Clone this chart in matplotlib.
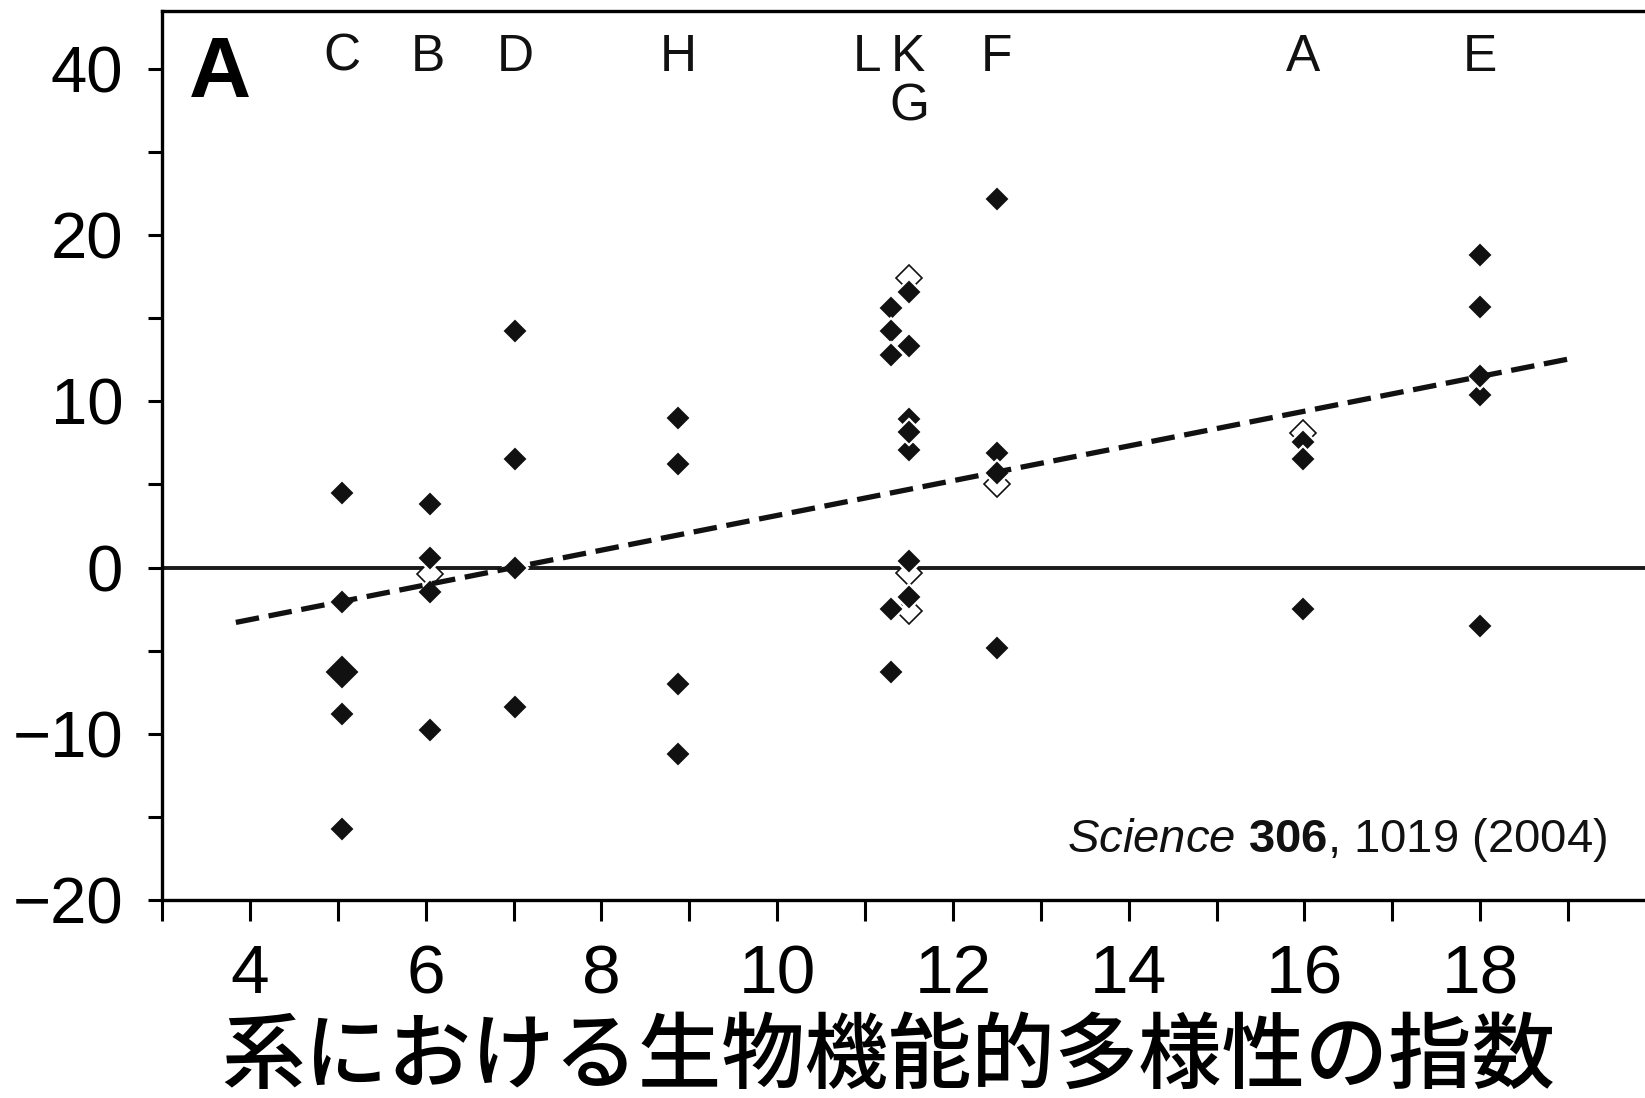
import matplotlib
matplotlib.use("Agg")
import matplotlib.pyplot as plt

plt.rcParams['font.family'] = ['Liberation Sans', 'DejaVu Sans']
plt.rcParams['mathtext.fontset'] = 'custom'
plt.rcParams['mathtext.rm'] = 'Liberation Sans'
plt.rcParams['mathtext.it'] = 'Liberation Sans:italic'
plt.rcParams['mathtext.bf'] = 'Liberation Sans:bold'
plt.rcParams['lines.scale_dashes'] = False

# functional diversity index of each system
sys_names = ['C', 'B', 'D', 'H', 'L', 'K', 'F', 'A', 'E']
sys_x = [5.05, 6.05, 7.02, 8.87, 11.3, 11.5, 12.5, 15.98, 18.0]

# filled points, listed in drawing order (later ones sit on top)
filled_y = [
    [4.5, -2.1, -8.8, -15.7],
    [3.8, 0.6, -1.5, -9.8],
    [14.2, 6.5, 0.0, -8.4],
    [9.0, 6.2, -7.0, -11.2],
    [15.6, 14.2, 12.8, -2.5, -6.3],
    [16.6, 13.3, 8.95, 7.05, 8.15, 0.4, -1.8],
    [22.2, 6.9, 5.7, -4.85],
    [7.55, 6.55, -2.5],
    [18.8, 15.7, 10.4, 11.5, -3.5],
]
# open points (mostly hidden behind filled ones)
open_x = [6.05, 11.5, 11.5, 11.5, 12.5, 15.98]
open_y = [-0.4, 17.4, -0.3, -2.6, 5.0, 8.1]
# the one large point in system C
big_x = [5.05]
big_y = [-6.3]

# regression line end points
fit_x = [3.84, 19.06]
fit_y = [-3.3, 12.6]

# labels along the top
top_labels = ['C', 'B', 'D', 'H', 'L', 'K', 'F', 'A', 'E', 'G']
top_x = [5.05, 6.03, 7.02, 8.87, 11.02, 11.49, 12.5, 15.98, 18.0, 11.5]
top_y = [30.7, 30.7, 30.7, 30.7, 30.7, 30.7, 30.7, 30.7, 30.7, 27.7]

y_ticks = [-20, -15, -10, -5, 0, 5, 10, 15, 20, 25, 30]
y_ticklabels = ['\u221220', '', '\u221210', '', '0', '', '10', '', '20', '', '40']
x_ticks = list(range(3, 20))
x_ticklabels = [str(v) if v % 2 == 0 else '' for v in x_ticks]

xlabel = '系における生物機能的多様性の指数'

fig = plt.figure(figsize=(16.45, 10.98), dpi=100)
ax = fig.add_axes([0.0985, 0.1803, 0.9015, 0.81])
ax.set_xlim(3, 19.876)
ax.set_ylim(-20, 33.5)

ax.axhline(0, color='#1a1a1a', lw=2.8, zorder=1)
ax.plot(fit_x, fit_y, color='#111111', lw=3.8, dashes=(17, 7), zorder=4)

ax.plot(open_x, open_y, 'D', ms=13, mfc='white', mec='#111111', mew=1.2, ls='none', zorder=2)
for x, ys in zip(sys_x, filled_y):
    ax.plot([x] * len(ys), ys, 'D', ms=13, mfc='#111111', mec='white', mew=1.6, ls='none', zorder=3)
ax.plot(big_x, big_y, 'D', ms=18.5, mfc='#111111', mec='white', mew=1.6, ls='none', zorder=3)

for t, x, y in zip(top_labels, top_x, top_y):
    ax.text(x, y, t, fontsize=37, ha='center', va='center', color='#111111')
ax.text(3.66, 29.6, 'A', fontsize=62, fontweight='bold', ha='center', va='center')

ax.text(19.44, -17.1, r'$\mathit{Science}$ $\mathbf{306}$, 1019 (2004)',
        fontsize=34, ha='right', va='baseline', color='#111111')

ax.set_yticks(y_ticks)
ax.set_yticklabels(y_ticklabels)
ax.set_xticks(x_ticks)
ax.set_xticklabels(x_ticklabels)
ax.tick_params(axis='y', direction='out', length=10, width=2.2, labelsize=47, pad=18)
ax.tick_params(axis='x', direction='out', length=15, width=2.2, labelsize=50, pad=16)

for side in ['left', 'top', 'bottom']:
    ax.spines[side].set_linewidth(2.4)
ax.spines['right'].set_visible(False)

fig.text(0.54, 0.036, xlabel, family=['Noto Sans CJK JP', 'DejaVu Sans'],
         fontsize=60, fontweight='medium', ha='center', va='center')

fig.savefig('out.png', dpi=100)
